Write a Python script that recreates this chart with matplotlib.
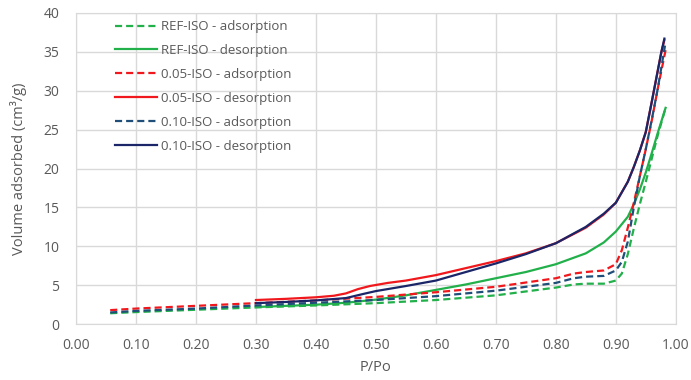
import matplotlib
matplotlib.use("Agg")
import matplotlib.pyplot as plt

# Isotherm data (P/Po vs volume adsorbed, cm3/g)
ref_ads_x = [0.057, 0.10, 0.20, 0.30, 0.40, 0.50, 0.60, 0.70, 0.80, 0.83, 0.85, 0.88, 0.90,
             0.91, 0.92, 0.93, 0.94, 0.95, 0.96, 0.97, 0.983]
ref_ads_y = [1.4, 1.55, 1.85, 2.15, 2.4, 2.7, 3.1, 3.7, 4.7, 5.1, 5.2, 5.2, 5.6,
             6.5, 9.0, 12.3, 15.4, 18.3, 21.3, 24.3, 27.8]

ref_des_x = [0.30, 0.35, 0.40, 0.45, 0.50, 0.55, 0.60, 0.65, 0.70, 0.75, 0.80, 0.85, 0.88,
             0.90, 0.92, 0.93, 0.94, 0.95, 0.96, 0.97, 0.983]
ref_des_y = [2.2, 2.35, 2.5, 2.75, 3.15, 3.7, 4.4, 5.1, 5.9, 6.7, 7.7, 9.1, 10.5,
             11.9, 13.8, 15.4, 17.3, 19.5, 22.0, 24.6, 27.8]

iso05_ads_x = [0.057, 0.10, 0.20, 0.30, 0.40, 0.50, 0.60, 0.70, 0.80, 0.83, 0.85, 0.88, 0.90,
               0.91, 0.92, 0.93, 0.94, 0.95, 0.96, 0.97, 0.984]
iso05_ads_y = [1.8, 2.0, 2.35, 2.7, 3.05, 3.5, 4.1, 4.8, 5.9, 6.5, 6.7, 6.9, 7.7,
               9.5, 12.4, 15.6, 19.0, 22.5, 26.2, 30.3, 35.6]

iso05_des_x = [0.30, 0.35, 0.40, 0.43, 0.45, 0.47, 0.49, 0.52, 0.55, 0.60, 0.65, 0.70, 0.75,
               0.80, 0.85, 0.88, 0.90, 0.92, 0.93, 0.94, 0.95, 0.96, 0.97, 0.976, 0.981]
iso05_des_y = [3.1, 3.25, 3.45, 3.65, 3.95, 4.5, 4.9, 5.3, 5.6, 6.3, 7.2, 8.1, 9.1,
               10.4, 12.4, 14.1, 15.6, 18.3, 20.2, 22.3, 24.7, 28.6, 32.6, 35.0, 36.5]

iso10_ads_x = [0.057, 0.10, 0.20, 0.30, 0.40, 0.50, 0.60, 0.70, 0.80, 0.83, 0.85, 0.88, 0.90,
               0.91, 0.92, 0.93, 0.94, 0.95, 0.96, 0.97, 0.982]
iso10_ads_y = [1.5, 1.7, 2.0, 2.4, 2.75, 3.1, 3.6, 4.3, 5.3, 5.9, 6.1, 6.2, 6.9,
               8.0, 10.6, 15.0, 19.0, 22.5, 26.3, 30.3, 35.8]

iso10_des_x = [0.30, 0.35, 0.40, 0.45, 0.48, 0.50, 0.55, 0.60, 0.65, 0.70, 0.75, 0.80, 0.85,
               0.88, 0.90, 0.92, 0.93, 0.94, 0.95, 0.96, 0.97, 0.976, 0.981]
iso10_des_y = [2.7, 2.85, 3.05, 3.35, 3.9, 4.25, 4.9, 5.6, 6.7, 7.8, 9.0, 10.4, 12.5,
               14.2, 15.6, 18.3, 20.2, 22.3, 24.7, 28.6, 32.6, 35.0, 36.7]

green = "#22b04b"
red = "#f0181c"
navy = "#1b2668"
steel = "#1f4e79"
grey = "#595959"

plt.rcParams["font.family"] = ["Open Sans", "DejaVu Sans"]

fig = plt.figure(figsize=(6.91, 3.80), dpi=100)
ax = fig.add_axes([0.110, 0.147, 0.868, 0.819])

dash = (0, (3.2, 1.8))
lw = 1.6
ax.plot(ref_ads_x, ref_ads_y, color=green, lw=lw, linestyle=dash, label="REF-ISO - adsorption")
ax.plot(ref_des_x, ref_des_y, color=green, lw=lw, label="REF-ISO - desorption")
ax.plot(iso05_ads_x, iso05_ads_y, color=red, lw=lw, linestyle=dash, label="0.05-ISO - adsorption")
ax.plot(iso05_des_x, iso05_des_y, color=red, lw=lw, label="0.05-ISO - desorption")
ax.plot(iso10_ads_x, iso10_ads_y, color=steel, lw=lw, linestyle=dash, label="0.10-ISO - adsorption")
ax.plot(iso10_des_x, iso10_des_y, color=navy, lw=lw, label="0.10-ISO - desorption")

ax.set_xlim(0, 1.0)
ax.set_ylim(0, 40)
ax.set_xticks([i / 10 for i in range(11)])
ax.set_xticklabels([f"{i / 10:.2f}" for i in range(11)])
ax.set_yticks(range(0, 41, 5))
ax.grid(True, color="#d9d9d9", lw=1.0)
ax.set_axisbelow(True)
for s in ax.spines.values():
    s.set_color("#d9d9d9")
ax.tick_params(length=0, colors=grey, labelsize=10)
ax.tick_params(axis="x", pad=10)
ax.tick_params(axis="y", pad=12)

ax.set_xlabel("P/Po", color=grey, fontsize=10.5, labelpad=5)
ax.set_ylabel("Volume adsorbed (cm³/g)", color=grey, fontsize=10.5, labelpad=12)

leg = ax.legend(loc="upper left", bbox_to_anchor=(0.045, 1.015), frameon=False, fontsize=9.5,
                handlelength=3.2, labelspacing=0.83, handletextpad=0.3)
for t in leg.get_texts():
    t.set_color(grey)

fig.savefig("out.png", dpi=100)
